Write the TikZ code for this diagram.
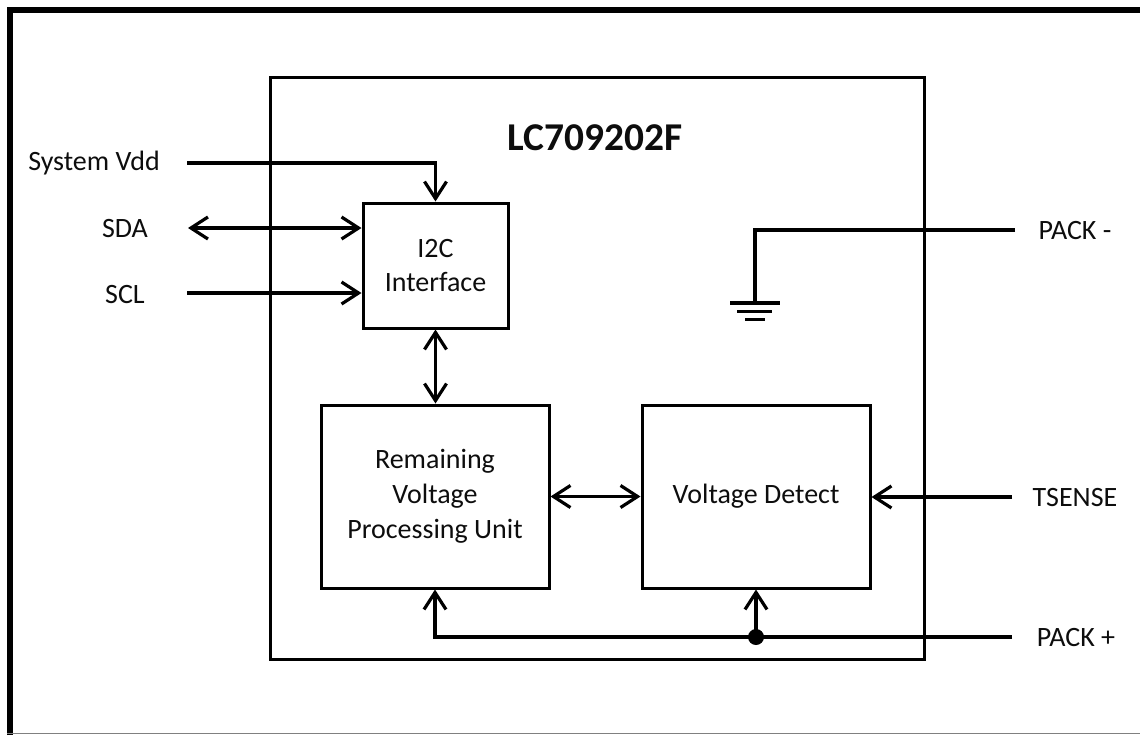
\documentclass[tikz,border=0pt]{standalone}
\usepackage{fontspec}
\setmainfont{Carlito}
\usetikzlibrary{arrows.meta}
\usetikzlibrary{positioning}

\begin{document}
\begin{tikzpicture}[x=0.5pt, y=-0.5pt]
    \tikzset{
      >={Straight Barb[length=8.5pt, width=11pt]},
      every node/.style={text=black!95, font=\fontsize{14}{17}\selectfont},
      block/.style={draw=black, line width=1.5pt, align=center, inner sep=0pt},
      wire/.style={draw=black, line width=1.6pt},
      pin/.style={inner sep=0pt},
    }
    \useasboundingbox (0,0) rectangle (1140,735);

    % frame
    \draw[line width=3pt] (10,735) -- (10,10) -- (1140,10);
    \draw[black!50, line width=0.6pt] (7,733.5) -- (1140,733.5);

    % chip and its blocks
    \node[block, minimum width=327pt, minimum height=291pt] (chip) at (597,368) {};
    \node[inner sep=0pt, font=\bfseries\fontsize{19.7}{24}\selectfont] (title) at (595,138) {LC709202F};
    \node[block, minimum width=72.5pt, minimum height=62.5pt] (iic) at (435.5,265.5) {I2C\\Interface};
    \node[block, minimum width=114pt, minimum height=91.5pt,
          font=\fontsize{14}{17.5}\selectfont] (rvpu) at (435,496.5) {Remaining\\Voltage\\Processing Unit};
    \node[block, minimum width=114pt, minimum height=91.5pt] (vdet) at (756,496.5) {Voltage Detect};

    % outside pins
    \node[pin] (sysvdd) at (94,163) {System Vdd};
    \node[pin] (sda) at (125,229) {SDA};
    \node[pin] (scl) at (125,294) {SCL};
    \node[pin] (packm) at (1075,231) {PACK -};
    \node[pin] (tsense) at (1075,497) {TSENSE};
    \node[pin] (packp) at (1076,637) {PACK +};

    \coordinate (vddpin) at (187,163);
    \coordinate (sdapin) at (188,228);
    \coordinate (sclpin) at (187,293);
    \coordinate (packmpin) at (1015,230);
    \coordinate (tsensepin) at (1012,497);
    \coordinate (packppin) at (1012,637);
    \coordinate (gnd) at (755,303);
    \coordinate (dot) at (vdet.south |- packppin);

    \draw[wire, ->] (vddpin) -| (iic.north);
    \draw[wire, <->] (sdapin) -- (sdapin -| iic.west);
    \draw[wire, ->] (sclpin) -- (sclpin -| iic.west);
    \draw[wire, <->] (iic.south) -- (iic.south |- rvpu.north);
    \draw[wire, <->] (rvpu.east) -- (vdet.west);
    \draw[wire, ->] (tsensepin) -- (tsensepin -| vdet.east);
    \draw[wire, ->] (packppin) -| (rvpu.south);
    \draw[wire, ->] (dot) -- (vdet.south);
    \fill (dot) circle (8);

    % ground
    \draw[wire] (packmpin) -| (gnd);
    \draw[wire] (730,303) -- (780,303);
    \draw[wire] (737,311.5) -- (772,311.5);
    \draw[wire] (745,319.5) -- (765,319.5);
  \end{tikzpicture}
\end{document}
